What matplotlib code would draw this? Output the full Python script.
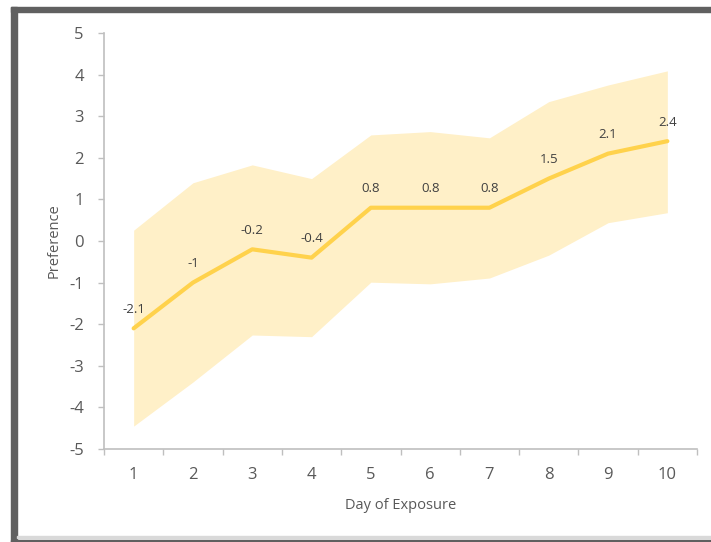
import matplotlib.pyplot as plt
from matplotlib.patches import Rectangle

days = [1, 2, 3, 4, 5, 6, 7, 8, 9, 10]
preference = [-2.1, -1, -0.2, -0.4, 0.8, 0.8, 0.8, 1.5, 2.1, 2.4]
upper = [0.26, 1.40, 1.83, 1.50, 2.55, 2.63, 2.48, 3.35, 3.75, 4.09]
lower = [-4.45, -3.39, -2.26, -2.30, -0.99, -1.03, -0.89, -0.34, 0.44, 0.68]
y_ticks = [-5, -4, -3, -2, -1, 0, 1, 2, 3, 4, 5]

plt.rcParams['font.family'] = ['Open Sans', 'DejaVu Sans']

W, H = 711, 542
fig = plt.figure(figsize=(W / 100, H / 100), dpi=100)

# frame around the chart area
def px_rect(x0, y0, x1, y1, color):
    fig.patches.append(Rectangle((x0 / W, 1 - y1 / H), (x1 - x0) / W, (y1 - y0) / H,
                                 transform=fig.transFigure, color=color, zorder=0))

px_rect(11, 7, W, 12, '#606060')
px_rect(11, 7, 17, H, '#606060')
px_rect(17, 536, W, 538, '#d9d9d9')
px_rect(11, 540, W, H, '#606060')

ax = fig.add_axes([104 / W, 1 - 449 / H, (697 - 104) / W, (449 - 33) / H])

fill_color = '#FFF0C8'
line_color = '#FFD24C'
axis_color = '#BFBFBF'
text_color = '#595959'

ax.fill_between(days, lower, upper, color=fill_color, linewidth=0, zorder=1)
ax.plot(days, preference, color=line_color, linewidth=3, solid_capstyle='round', zorder=2)

for d, v in zip(days, preference):
    ax.annotate(f'{v:g}', (d, v), xytext=(0, 9), textcoords='offset points',
                ha='center', va='bottom', fontsize=9.5, color='#404040')

ax.set_xlim(0.5, 10.5)
ax.set_ylim(-5, 5)
ax.set_yticks(y_ticks)
ax.set_yticklabels([str(t) for t in y_ticks])
ax.set_xticks(days)
ax.set_xticklabels([str(d) for d in days])
ax.set_xticks([d + 0.5 for d in [0] + days], minor=True)

for s in ['top', 'right']:
    ax.spines[s].set_visible(False)
for s in ['left', 'bottom']:
    ax.spines[s].set_color(axis_color)
    ax.spines[s].set_linewidth(1.2)

ax.tick_params(axis='y', which='major', length=4.5, width=1, color=axis_color,
               labelsize=12, labelcolor=text_color, pad=10)
ax.tick_params(axis='x', which='major', length=0, labelsize=12,
               labelcolor=text_color, pad=13)
ax.tick_params(axis='x', which='minor', length=4.5, width=1, color=axis_color)

ax.set_xlabel('Day of Exposure', fontsize=10.5, color=text_color, labelpad=11)
ax.set_ylabel('Preference', fontsize=10.5, color=text_color, labelpad=5)

fig.savefig('out.png', dpi=100)
